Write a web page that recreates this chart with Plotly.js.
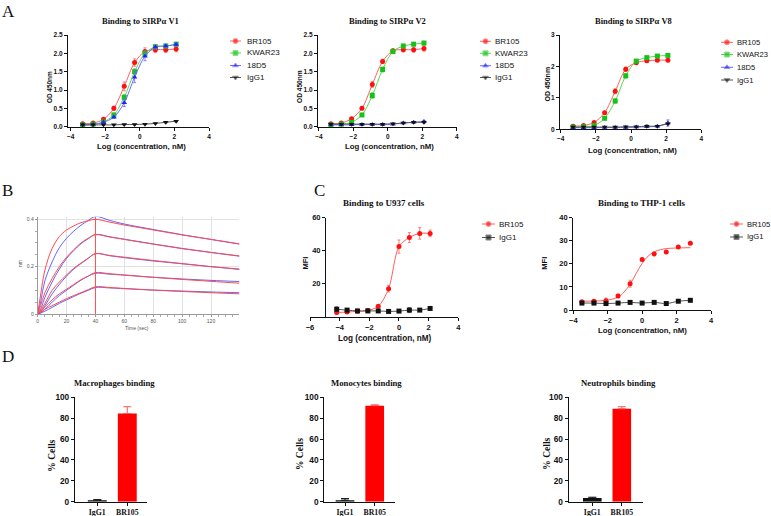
<!DOCTYPE html>
<html>
<head>
<meta charset="utf-8">
<script src="https://cdn.plot.ly/plotly-3.0.1.min.js"></script>
<style>html,body{margin:0;padding:0;background:#fff}</style>
</head>
<body>
<div id="fig" style="width:771px;height:516px"></div>
<script>
// ---------- panel A : ELISA, binding to SIRPa variants ----------
var seriesNames = ['BR105', 'KWAR23', '18D5', 'IgG1'];
var logConcA = [-3.3, -2.7, -2.1, -1.5, -0.9, -0.3, 0.3, 0.9, 1.5, 2.1];

var v1BR105 = [0.08, 0.10, 0.20, 0.50, 1.10, 1.75, 2.05, 2.10, 2.10, 2.12];
var v1BR105Err = [0.02, 0.02, 0.03, 0.06, 0.12, 0.10, 0.10, 0.08, 0.08, 0.08];
var v1KWAR23 = [0.05, 0.07, 0.13, 0.32, 0.80, 1.50, 2.00, 2.18, 2.20, 2.25];
var v1KWAR23Err = [0.01, 0.01, 0.02, 0.05, 0.08, 0.08, 0.06, 0.04, 0.05, 0.05];
var v1D5 = [0.05, 0.06, 0.12, 0.26, 0.65, 1.35, 1.92, 2.17, 2.20, 2.24];
var v1D5Err = [0.01, 0.01, 0.02, 0.03, 0.10, 0.15, 0.12, 0.05, 0.05, 0.05];
var v1IgG1 = [0.05, 0.05, 0.05, 0.05, 0.06, 0.06, 0.07, 0.09, 0.12, 0.15];
var v1IgG1Err = [0.01, 0.01, 0.01, 0.01, 0.01, 0.01, 0.01, 0.01, 0.02, 0.02];

var v2BR105 = [0.08, 0.10, 0.22, 0.50, 1.15, 1.78, 2.07, 2.10, 2.10, 2.13];
var v2BR105Err = [0.02, 0.02, 0.03, 0.04, 0.08, 0.06, 0.05, 0.06, 0.07, 0.07];
var v2KWAR23 = [0.05, 0.07, 0.12, 0.32, 0.85, 1.56, 2.05, 2.20, 2.25, 2.28];
var v2KWAR23Err = [0.01, 0.01, 0.02, 0.03, 0.08, 0.07, 0.05, 0.05, 0.04, 0.05];
var v2D5 = [0.05, 0.05, 0.05, 0.06, 0.06, 0.06, 0.07, 0.10, 0.12, 0.14];
var v2D5Err = [0.01, 0.01, 0.01, 0.01, 0.01, 0.01, 0.01, 0.02, 0.02, 0.03];
var v2IgG1 = [0.07, 0.07, 0.07, 0.07, 0.07, 0.07, 0.08, 0.10, 0.12, 0.12];
var v2IgG1Err = [0.01, 0.01, 0.01, 0.01, 0.01, 0.01, 0.01, 0.01, 0.02, 0.02];

var v8BR105 = [0.10, 0.12, 0.22, 0.53, 1.21, 1.91, 2.12, 2.18, 2.20, 2.20];
var v8BR105Err = [0.02, 0.02, 0.03, 0.04, 0.08, 0.07, 0.04, 0.04, 0.04, 0.04];
var v8KWAR23 = [0.07, 0.08, 0.12, 0.35, 0.90, 1.70, 2.17, 2.28, 2.33, 2.35];
var v8KWAR23Err = [0.01, 0.01, 0.02, 0.03, 0.07, 0.07, 0.05, 0.04, 0.04, 0.04];
var v8D5 = [0.05, 0.05, 0.05, 0.06, 0.06, 0.06, 0.07, 0.08, 0.10, 0.20];
var v8D5Err = [0.01, 0.01, 0.01, 0.01, 0.01, 0.01, 0.01, 0.02, 0.02, 0.10];
var v8IgG1 = [0.07, 0.07, 0.07, 0.07, 0.07, 0.08, 0.08, 0.10, 0.10, 0.18];
var v8IgG1Err = [0.01, 0.01, 0.01, 0.01, 0.01, 0.01, 0.01, 0.04, 0.02, 0.03];

// ---------- panel B : sensorgram (nm vs time) ----------
var timeB = [0, 2, 5, 10, 15, 20, 25, 30, 35, 40, 50, 60, 80, 100, 120, 140];
var fit1 = [0, 0.08, 0.186, 0.277, 0.327, 0.355, 0.372, 0.386, 0.394, 0.400, 0.388, 0.376, 0.355, 0.334, 0.315, 0.296];
var raw1 = [0, 0.05, 0.140, 0.220, 0.280, 0.320, 0.350, 0.375, 0.395, 0.412, 0.395, 0.380, 0.357, 0.335, 0.315, 0.295];
var fit2 = [0, 0.035, 0.090, 0.150, 0.200, 0.240, 0.272, 0.300, 0.320, 0.335, 0.325, 0.315, 0.295, 0.276, 0.260, 0.245];
var raw2 = [0, 0.020, 0.070, 0.135, 0.190, 0.235, 0.268, 0.297, 0.318, 0.336, 0.326, 0.316, 0.296, 0.277, 0.260, 0.244];
var fit3 = [0, 0.015, 0.045, 0.100, 0.135, 0.165, 0.193, 0.215, 0.236, 0.255, 0.247, 0.240, 0.226, 0.213, 0.200, 0.190];
var raw3 = [0, 0.010, 0.035, 0.085, 0.125, 0.160, 0.190, 0.213, 0.235, 0.255, 0.246, 0.238, 0.224, 0.212, 0.200, 0.188];
var fit4 = [0, 0.010, 0.030, 0.060, 0.085, 0.105, 0.125, 0.145, 0.160, 0.175, 0.170, 0.165, 0.155, 0.146, 0.138, 0.130];
var raw4 = [0, 0.005, 0.020, 0.050, 0.078, 0.100, 0.122, 0.143, 0.160, 0.172, 0.168, 0.164, 0.155, 0.148, 0.142, 0.137];
var fit5 = [0, 0.008, 0.020, 0.035, 0.050, 0.065, 0.078, 0.090, 0.103, 0.115, 0.112, 0.108, 0.101, 0.095, 0.090, 0.085];
var raw5 = [0, 0.004, 0.012, 0.028, 0.045, 0.060, 0.074, 0.088, 0.100, 0.112, 0.110, 0.107, 0.101, 0.097, 0.093, 0.090];

// ---------- panel C : cell binding (MFI) ----------
var logConcU937 = [-4.2, -3.5, -2.8, -2.1, -1.4, -0.7, 0, 0.7, 1.4, 2.1];
var u937BR105 = [2.6, 2.8, 3.3, 3.8, 6.3, 17, 42.5, 48, 50.5, 50.5];
var u937BR105Err = [0.8, 0.8, 0.6, 0.8, 0.8, 2, 4, 3, 3.5, 2];
var u937IgG1 = [4.5, 4, 3.5, 3.5, 3.5, 3.2, 3.4, 4, 4, 5];
var u937IgG1Err = [1.5, 0.8, 0.5, 0.5, 0.5, 0.5, 0.5, 1.5, 0.5, 0.5];

var logConcTHP1 = [-3.5, -2.8, -2.1, -1.4, -0.7, 0, 0.7, 1.4, 2.1, 2.8];
var thp1BR105 = [3.6, 3.8, 4.0, 6.1, 11.4, 21.9, 24.3, 25.1, 27.3, 28.9];
var thp1BR105Err = [0.5, 0.5, 1.2, 0.8, 1.5, 0.5, 0.8, 0.5, 0.5, 0.5];
var thp1IgG1 = [3.0, 3.0, 2.8, 3.0, 3.3, 3.0, 3.3, 2.8, 3.8, 4.2];
var thp1IgG1Err = [0.3, 0.3, 0.6, 0.3, 0.6, 0.3, 0.4, 0.3, 0.3, 0.3];
var thp1FitX = [-3.5, -2.8, -2.1, -1.4, -1.05, -0.7, -0.35, 0, 0.35, 0.7, 1.05, 1.4, 2.1, 2.8];
var thp1FitY = [3.8, 3.9, 4.2, 5.6, 7.8, 11.2, 15.8, 20.2, 23.4, 25.2, 26.1, 26.6, 26.9, 27.0];

// ---------- panel D : % binding cells ----------
var groupsD = ['IgG1', 'BR105'];
var macroPct = [1.5, 84.5], macroErr = [0.5, 6.5];
var monoPct = [1.5, 92], monoErr = [1.5, 0.8];
var neutroPct = [3.5, 89], neutroErr = [0.8, 2];

var W = 771, H = 516;
function px(p) { return p / W; }
function py(p) { return 1 - p / H; }

var SANS = 'Arial, "Liberation Sans", sans-serif';
var SERIF = '"Times New Roman", "Liberation Serif", serif';
var RED = '#ff1010', GREEN = '#16c216', BLUE = '#2020ff', BLACK = '#111111';
var RED_L = '#ff6060', GREEN_L = '#58d858', BLUE_L = '#6a6aff', BLACK_L = '#555555';

var data = [];
var annotations = [];

function curve(x, y, err, color, lineColor, symbol, xa, ya, smooth) {
  return {
    x: x, y: y, type: 'scatter', mode: smooth === false ? 'markers' : 'lines+markers',
    line: {shape: 'spline', smoothing: 0.9, width: 1, color: lineColor},
    marker: {symbol: symbol, size: 5, color: color},
    error_y: {type: 'data', array: err, visible: true, color: lineColor, thickness: 0.8, width: 1.5},
    xaxis: xa, yaxis: ya, cliponaxis: false, showlegend: false, hoverinfo: 'skip'
  };
}

var colorsA = [RED, GREEN, BLUE, BLACK];
var lineColorsA = [RED_L, GREEN_L, BLUE_L, BLACK_L];
var symbolsA = ['circle', 'square', 'triangle-up', 'triangle-down'];

function addA(sets, xa, ya) {
  sets.forEach(function (s, i) {
    data.push(curve(logConcA, s[0], s[1], colorsA[i], lineColorsA[i], symbolsA[i], xa, ya));
  });
}
addA([[v1BR105, v1BR105Err], [v1KWAR23, v1KWAR23Err], [v1D5, v1D5Err], [v1IgG1, v1IgG1Err]], 'x', 'y');
addA([[v2BR105, v2BR105Err], [v2KWAR23, v2KWAR23Err], [v2D5, v2D5Err], [v2IgG1, v2IgG1Err]], 'x2', 'y2');
addA([[v8BR105, v8BR105Err], [v8KWAR23, v8KWAR23Err], [v8D5, v8D5Err], [v8IgG1, v8IgG1Err]], 'x3', 'y3');

// panel B
[raw1, raw2, raw3, raw4, raw5].forEach(function (r) {
  data.push({x: timeB, y: r, type: 'scatter', mode: 'lines', line: {color: '#4a4aff', width: 1, shape: 'spline'},
    opacity: 0.85, xaxis: 'x4', yaxis: 'y4', showlegend: false, hoverinfo: 'skip'});
});
[fit1, fit2, fit3, fit4, fit5].forEach(function (f) {
  data.push({x: timeB, y: f, type: 'scatter', mode: 'lines', line: {color: '#ff4a4a', width: 1, shape: 'spline'},
    xaxis: 'x4', yaxis: 'y4', showlegend: false, hoverinfo: 'skip'});
});

// panel C
data.push(curve(logConcU937, u937BR105, u937BR105Err, RED, RED_L, 'circle', 'x5', 'y5'));
data.push(curve(logConcU937, u937IgG1, u937IgG1Err, BLACK, BLACK_L, 'square', 'x5', 'y5'));
data.push({x: thp1FitX, y: thp1FitY, type: 'scatter', mode: 'lines', line: {shape: 'spline', color: RED_L, width: 1},
  xaxis: 'x6', yaxis: 'y6', showlegend: false, hoverinfo: 'skip'});
data.push(curve(logConcTHP1, thp1BR105, thp1BR105Err, RED, RED_L, 'circle', 'x6', 'y6', false));
data.push(curve(logConcTHP1, thp1IgG1, thp1IgG1Err, BLACK, BLACK_L, 'square', 'x6', 'y6'));

// panel D
function addBars(vals, errs, xa, ya) {
  var cols = [BLACK, '#ff0000'], errCols = [BLACK, '#ff5a5a'];
  groupsD.forEach(function (g, i) {
    data.push({x: [g], y: [vals[i]], type: 'bar', width: 0.63, marker: {color: cols[i], line: {width: 0}},
      error_y: {type: 'data', array: [errs[i]], arrayminus: [0], symmetric: false, color: errCols[i], thickness: 1, width: 4},
      xaxis: xa, yaxis: ya, showlegend: false, hoverinfo: 'skip'});
  });
}
addBars(macroPct, macroErr, 'x7', 'y7');
addBars(monoPct, monoErr, 'x8', 'y8');
addBars(neutroPct, neutroErr, 'x9', 'y9');

// hand-made legends on an overlay axis measured in pixels
function legend(names, colors, lineColors, symbols, x0, x1, textX, rows, size) {
  names.forEach(function (n, i) {
    data.push({x: [x0, (x0 + x1) / 2, x1], y: [rows[i], rows[i], rows[i]], type: 'scatter', mode: 'lines+markers',
      line: {color: lineColors[i], width: 1}, marker: {symbol: symbols[i], size: [0, 5, 0], color: colors[i]},
      xaxis: 'x10', yaxis: 'y10', showlegend: false, hoverinfo: 'skip', cliponaxis: false});
    annotations.push({text: n, x: px(textX), y: py(rows[i]), xref: 'paper', yref: 'paper', xanchor: 'left', yanchor: 'middle',
      showarrow: false, font: {family: SANS, size: size || 8, color: '#111'}});
  });
}
legend(seriesNames, colorsA, lineColorsA, symbolsA, 230, 241, 244.5, [41, 53, 65.5, 77.5]);
legend(seriesNames, colorsA, lineColorsA, symbolsA, 480, 491, 493.5, [41.3, 53.3, 65.7, 77.5]);
legend(seriesNames, colorsA, lineColorsA, symbolsA, 721, 733, 735, [42.3, 54.5, 67.3, 80], 7.6);
legend(['BR105', 'IgG1'], [RED, BLACK], [RED_L, BLACK_L], ['circle', 'square'], 482, 495, 496.5, [224, 237.5]);
legend(['BR105', 'IgG1'], [RED, BLACK], [RED_L, BLACK_L], ['circle', 'square'], 730, 743, 744.5, [224, 237], 7.6);

function label(text, x, y, font, angle) {
  annotations.push({text: text, x: px(x), y: py(y), xref: 'paper', yref: 'paper', xanchor: 'center', yanchor: 'middle',
    showarrow: false, textangle: angle || 0, font: font});
}
var titleFont = {family: SERIF, size: 8.5, color: '#111', weight: 'bold'};
var axisFont = {family: SANS, size: 7.8, color: '#111', weight: 'bold'};

// panel letters
['A', 'B', 'C', 'D'].forEach(function (l, i) {
  var pos = [[8, 11], [7, 190], [319, 190], [8, 356]][i];
  label(l, pos[0], pos[1], {family: SERIF, size: 17, color: '#111'});
});

label('Binding to SIRPα V1', 140, 21, titleFont);
label('Binding to SIRPα V2', 387.5, 21, titleFont);
label('Binding to SIRPα V8', 633, 21, titleFont);
label('Log (concentration, nM)', 141, 146, axisFont);
label('Log (concentration, nM)', 389, 146, axisFont);
label('Log (concentration, nM)', 632, 150, axisFont);
label('OD 450nm', 50, 87, {family: SANS, size: 6.4, color: '#111', weight: 'bold'}, -90);
label('OD 450nm', 300, 87, {family: SANS, size: 6.6, color: '#111', weight: 'bold'}, -90);
label('OD 450nm', 546.5, 84, {family: SANS, size: 7, color: '#111', weight: 'bold'}, -90);

label('Time (sec)', 137, 327.5, {family: SANS, size: 5, color: '#555'});
label('nm', 20, 264, {family: SANS, size: 5, color: '#555'}, -90);

label('Binding to U937 cells', 384, 202.7, {family: SERIF, size: 9, color: '#111', weight: 'bold'});
label('Binding to THP-1 cells', 641.7, 203.3, {family: SERIF, size: 9, color: '#111', weight: 'bold'});
label('Log (concentration, nM)', 385, 338.3, {family: SANS, size: 8.2, color: '#111', weight: 'bold'});
label('Log (concentration, nM)', 642.5, 330, axisFont);
label('MFI', 305, 263.5, {family: SANS, size: 7.5, color: '#111', weight: 'bold'}, -90);
label('MFI', 545, 263.7, {family: SANS, size: 7.5, color: '#111', weight: 'bold'}, -90);

var dTitle = {family: SERIF, size: 8.7, color: '#111', weight: 'bold'};
label('Macrophages binding', 114, 382.7, dTitle);
label('Monocytes binding', 366, 382.7, dTitle);
label('Neutrophils binding', 618, 382.7, dTitle);
var cellsFont = {family: SERIF, size: 9.5, color: '#111', weight: 'bold'};
label('% Cells', 51.7, 456, cellsFont, -90);
label('% Cells', 300, 454, cellsFont, -90);
label('% Cells', 546.7, 454, cellsFont, -90);

function ax(extra, size) {
  var base = {showline: true, linecolor: '#111', linewidth: 1.1, ticks: 'outside', ticklen: 3, tickwidth: 1,
    tickcolor: '#111', showgrid: false, zeroline: false, fixedrange: true,
    tickfont: {family: SANS, size: size || 6.5, color: '#111', weight: 'bold'}};
  for (var k in extra) base[k] = extra[k];
  return base;
}
var yA = [py(126.7), py(35)];

var layout = {
  width: W, height: H, margin: {l: 0, r: 0, t: 0, b: 0},
  paper_bgcolor: '#fff', plot_bgcolor: 'rgba(0,0,0,0)', showlegend: false, barmode: 'overlay',
  annotations: annotations,
  xaxis: ax({domain: [px(68), px(209)], range: [-4.15, 4], tickvals: [-4, -2, 0, 2, 4], anchor: 'y'}),
  yaxis: ax({domain: yA, range: [0, 2.5], dtick: 0.5, tickformat: '.1f', anchor: 'x'}),
  xaxis2: ax({domain: [px(318), px(456.7)], range: [-4.05, 4], tickvals: [-4, -2, 0, 2, 4], anchor: 'y2'}),
  yaxis2: ax({domain: yA, range: [0, 2.5], dtick: 0.5, tickformat: '.1f', anchor: 'x2'}),
  xaxis3: ax({domain: [px(560), px(701.3)], range: [-4.04, 4], tickvals: [-4, -2, 0, 2, 4], anchor: 'y3'}),
  yaxis3: ax({domain: [py(129.3), py(35)], range: [0, 3], dtick: 1, anchor: 'x3'}),
  xaxis4: ax({domain: [px(37.7), px(239.3)], range: [0, 139.6], dtick: 20, tick0: 0, anchor: 'y4',
    linecolor: '#9a9a9a', linewidth: 1, tickcolor: '#9a9a9a', ticklen: 2, showgrid: true, gridcolor: '#e2e2e2',
    tickfont: {family: SANS, size: 5, color: '#555'},
    minor: {dtick: 5, ticks: 'outside', ticklen: 2, tickcolor: '#aaa', showgrid: false}}),
  yaxis4: ax({domain: [py(314), py(216.7)], range: [0, 0.411], dtick: 0.2, tick0: 0, anchor: 'x4',
    linecolor: '#9a9a9a', linewidth: 1, tickcolor: '#9a9a9a', ticklen: 2, showgrid: true, gridcolor: '#e2e2e2',
    tickfont: {family: SANS, size: 5, color: '#555'},
    minor: {dtick: 0.05, ticks: 'outside', ticklen: 2, tickcolor: '#aaa', showgrid: false}}),
  xaxis5: ax({domain: [px(310), px(458.3)], range: [-6, 4], tickvals: [-6, -4, -2, 0, 2, 4], anchor: 'y5'}, 7.5),
  yaxis5: ax({domain: [py(316.7), py(217.7)], range: [0, 60], tickvals: [20, 40, 60], anchor: 'free', position: px(325)}, 7.5),
  xaxis6: ax({domain: [px(573.3), px(711)], range: [-4, 4], tickvals: [-4, -2, 0, 2, 4], anchor: 'y6'}, 7.5),
  yaxis6: ax({domain: [py(310), py(217.7)], range: [0, 40], dtick: 10, anchor: 'x6'}, 7.5),
  xaxis7: ax({domain: [px(75), px(146.7)], range: [-0.743, 1.647], type: 'category', categoryorder: 'array', categoryarray: groupsD, anchor: 'y7',
    tickfont: {family: SERIF, size: 7.8, color: '#111', weight: 'bold'}}),
  yaxis7: ax({domain: [py(501.7), py(397.3)], range: [0, 100], dtick: 20, anchor: 'x7'}, 8.3),
  xaxis8: ax({domain: [px(324.3), px(395)], range: [-0.697, 1.683], type: 'category', categoryorder: 'array', categoryarray: groupsD, anchor: 'y8',
    tickfont: {family: SERIF, size: 7.8, color: '#111', weight: 'bold'}}),
  yaxis8: ax({domain: [py(501.7), py(397.3)], range: [0, 100], dtick: 20, anchor: 'x8'}, 8.3),
  xaxis9: ax({domain: [px(568.7), px(642.7)], range: [-0.8, 1.708], type: 'category', categoryorder: 'array', categoryarray: groupsD, anchor: 'y9',
    tickfont: {family: SERIF, size: 7.8, color: '#111', weight: 'bold'}}),
  yaxis9: ax({domain: [py(501.7), py(397.3)], range: [0, 100], dtick: 20, anchor: 'x9'}, 8.3),
  xaxis10: {domain: [0, 1], range: [0, W], visible: false, fixedrange: true, anchor: 'y10'},
  yaxis10: {domain: [0, 1], range: [H, 0], visible: false, fixedrange: true, anchor: 'x10'},
  shapes: [{type: 'line', xref: 'x4', yref: 'y4', x0: 40, x1: 40, y0: 0, y1: 0.411, line: {color: '#ff5050', width: 1}}]
};

Plotly.newPlot('fig', data, layout, {staticPlot: true, displayModeBar: false});
</script>
</body>
</html>
